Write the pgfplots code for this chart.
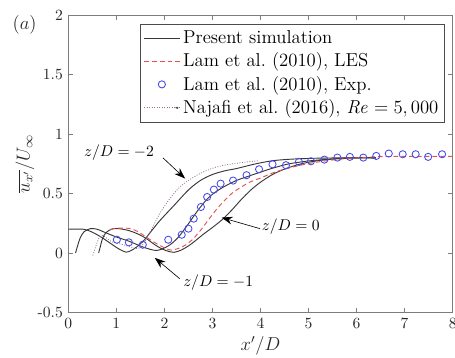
\documentclass[border=0pt]{standalone}
\usepackage{pgfplots}
\pgfplotsset{compat=1.18}
\usetikzlibrary{arrows.meta,calc}

\definecolor{simgray}{RGB}{55,55,55}
\definecolor{lesred}{RGB}{232,80,80}
\definecolor{expblue}{RGB}{72,72,235}
\definecolor{najafi}{RGB}{150,112,150}
\definecolor{boxgray}{RGB}{125,125,125}

% legend samples: a longer line, and a dotted line with a dot for the Najafi entry
\pgfplotsset{
  longlegend/.style={legend image code/.code={\draw[mark repeat=2,mark phase=2,##1]
    plot coordinates {(0cm,0cm) (0.4cm,0cm) (0.8cm,0cm)};}},
  dotlegend/.style={legend image code/.code={\draw[##1] (0cm,0cm) -- (0.8cm,0cm);
    \fill[black!70] (0.74cm,0cm) circle (0.7pt);}},
}

\begin{document}
\begin{tikzpicture}
\begin{axis}[
  scale only axis, width=246.4pt, height=190.8pt,
  xmin=0, xmax=8, ymin=-0.5, ymax=2,
  xtick={0,1,...,8}, ytick={-0.5,0,0.5,1,1.5,2},
  yticklabels={-0.5,0,0.5,1,1.5,2},
  tick align=inside, major tick length=3pt,
  axis line style={boxgray, line width=0.5pt},
  tick style={boxgray, line width=0.4pt},
  ticklabel style={font=\normalsize, text=black!85},
  xlabel={$x'/D$}, ylabel={$\overline{u_{x'}}/U_\infty$},
  label style={font=\fontsize{11.5}{13}\selectfont, text=black!85},
  xlabel style={at={(axis description cs:0.5,-0.112)}, anchor=center},
  ylabel style={at={(axis description cs:-0.113,0.5)}, anchor=center},
  legend style={at={(axis description cs:0.98,0.97)}, anchor=north east,
    draw=black!70, line width=0.4pt, font=\fontsize{12}{14}\selectfont,
    inner sep=2pt, row sep=0.5pt},
  legend cell align=left,
  longlegend,
]
\coordinate (bl) at (rel axis cs:0,0);
\coordinate (tl) at (rel axis cs:0,1);
\coordinate (tr) at (rel axis cs:1,1);

% present simulation, z/D = -2
\addplot[simgray, line width=0.6pt, smooth, tension=0.5] coordinates {
 (0.0,0.2) (0.32,0.2) (0.5,0.175) (0.7,0.13) (0.9,0.075) (1.05,0.035)
 (1.2,0.008) (1.3,0.02) (1.42,0.05) (1.56,0.1) (1.7,0.17) (1.9,0.27)
 (2.2,0.4) (2.5,0.53) (2.75,0.61) (3.0,0.66) (3.25,0.69) (3.5,0.71)
 (3.75,0.735) (4.0,0.758) (4.3,0.778) (4.7,0.79) (5.2,0.797) (5.8,0.80) (6.4,0.80)};
\addlegendentry{Present simulation}

% present simulation, z/D = -1
\addplot[simgray, line width=0.6pt, smooth, tension=0.5, forget plot] coordinates {
 (0.15,0.0) (0.2,0.07) (0.25,0.13) (0.33,0.18) (0.46,0.205) (0.6,0.2)
 (0.77,0.172) (1.0,0.135) (1.26,0.1) (1.56,0.05) (1.84,0.022) (2.08,0.06)
 (2.26,0.12) (2.4,0.19) (2.55,0.275) (2.7,0.36) (2.88,0.45) (3.02,0.5)
 (3.23,0.555) (3.5,0.61) (3.71,0.64) (4.0,0.68) (4.27,0.715) (4.6,0.75)
 (5.03,0.775) (5.5,0.79) (6.0,0.80) (6.4,0.80)};

% present simulation, z/D = 0
\addplot[simgray, line width=0.6pt, smooth, tension=0.5, forget plot] coordinates {
 (0.63,0.0) (0.67,0.06) (0.71,0.12) (0.78,0.17) (0.91,0.203) (1.05,0.205)
 (1.25,0.19) (1.45,0.16) (1.63,0.12) (1.8,0.07) (1.95,0.035) (2.1,0.012)
 (2.2,0.006) (2.35,0.025) (2.5,0.06) (2.65,0.105) (2.8,0.155) (3.0,0.215)
 (3.2,0.28) (3.4,0.36) (3.6,0.45) (3.8,0.53) (4.0,0.595) (4.25,0.66)
 (4.5,0.705) (4.8,0.745) (5.1,0.77) (5.5,0.79) (6.0,0.80) (6.4,0.80)};

% Lam et al. (2010), LES
\addplot[lesred, line width=0.6pt, dash pattern=on 3pt off 2pt, smooth, tension=0.5] coordinates {
 (0.88,0.195) (0.95,0.205) (1.1,0.21) (1.3,0.205) (1.45,0.18) (1.6,0.14)
 (1.75,0.1) (1.9,0.065) (2.05,0.035) (2.15,0.025) (2.3,0.04) (2.45,0.07)
 (2.6,0.12) (2.75,0.19) (2.9,0.27) (3.05,0.35) (3.2,0.42) (3.4,0.5)
 (3.6,0.555) (3.8,0.6) (4.0,0.63) (4.3,0.68) (4.6,0.715) (5.0,0.752)
 (5.5,0.782) (6.0,0.8) (6.5,0.81) (7.0,0.812) (7.5,0.812) (8.0,0.812)};
\addlegendentry{Lam et al.\ (2010), LES}

% Lam et al. (2010), experiment
\addplot[only marks, mark=o, mark size=2.3pt, expblue, line width=0.55pt] coordinates {
 (1.01,0.112) (1.26,0.09) (1.55,0.07) (2.08,0.112) (2.36,0.154) (2.50,0.205)
 (2.61,0.289) (2.76,0.387) (2.89,0.471) (3.03,0.533) (3.17,0.583) (3.43,0.609)
 (3.71,0.654) (3.97,0.704) (4.25,0.746) (4.53,0.738) (4.80,0.766) (5.05,0.771)
 (5.33,0.785) (5.60,0.802) (5.86,0.808) (6.14,0.802) (6.41,0.816) (6.67,0.836)
 (6.96,0.830) (7.23,0.830) (7.49,0.808) (7.78,0.830)};
\addlegendentry{Lam et al.\ (2010), Exp.}

% Najafi et al. (2016)
\addplot[najafi, line width=0.5pt, dash pattern=on 0.6pt off 1pt, smooth, tension=0.5,
  dotlegend] coordinates {
 (0.51,-0.02) (0.56,0.04) (0.63,0.12) (0.7,0.15) (0.8,0.125) (0.9,0.095)
 (1.1,0.075) (1.3,0.05) (1.45,0.038) (1.55,0.07) (1.65,0.14) (1.77,0.23)
 (1.9,0.33) (2.1,0.45) (2.32,0.555) (2.5,0.61) (2.75,0.67) (3.02,0.715)
 (3.3,0.742) (3.71,0.765) (3.95,0.775)};
\addlegendentry{Najafi et al.\ (2016), $\mathit{Re}=5,000$}

% labels for the spanwise positions
\draw[-{Stealth[length=7pt,width=5pt]}, line width=0.4pt] (axis cs:1.97,0.80) -- (axis cs:2.43,0.626);
\node[font=\normalsize] at (axis cs:1.055,0.847) {$z/D=-2$};
\draw[-{Stealth[length=7pt,width=5pt]}, line width=0.4pt] (axis cs:3.99,0.205) -- (axis cs:3.19,0.298);
\node[font=\normalsize] at (axis cs:4.63,0.226) {$z/D=0$};
\draw[-{Stealth[length=7pt,width=5pt]}, line width=0.4pt] (axis cs:2.32,-0.216) -- (axis cs:1.80,-0.04);
\node[font=\normalsize] at (axis cs:3.12,-0.244) {$z/D=-1$};
\end{axis}
% panel label
\node[font=\fontsize{12}{14}\selectfont, text=black!85] at ($(tl)+(-28pt,-6.1pt)$) {$(a)$};
\pgfresetboundingbox
\path[use as bounding box] ($(bl)+(-43.8pt,-29.1pt)$) rectangle ($(tr)+(1.5pt,9.6pt)$);
\end{tikzpicture}
\end{document}
